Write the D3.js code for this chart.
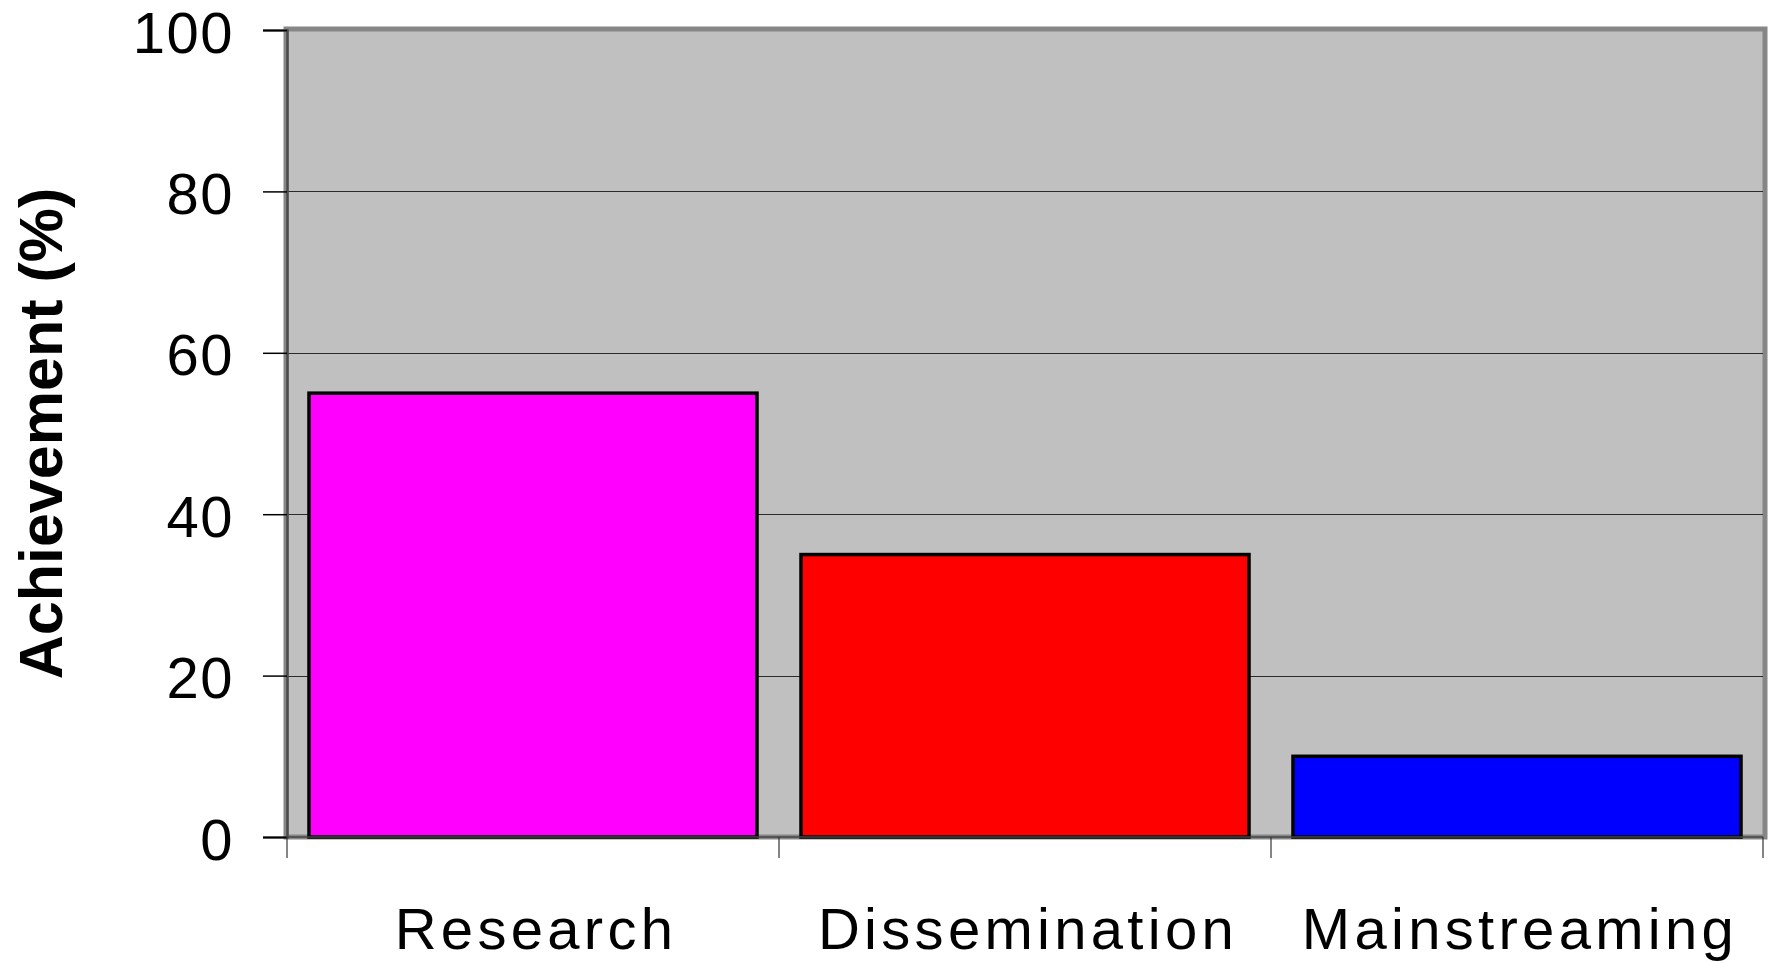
<!DOCTYPE html>
<html>
<head>
<meta charset="utf-8">
<script src="https://cdn.jsdelivr.net/npm/d3@7"></script>
<style>
  html, body { margin: 0; padding: 0; background: #ffffff; }
  svg { display: block; }
  text { font-family: "Liberation Sans", Arial, sans-serif; fill: #000; }
</style>
</head>
<body>
<svg id="chart" width="1770" height="963"></svg>
<script>
// Achievement by programme component
const categories = ["Research", "Dissemination", "Mainstreaming"];
const achievement = [55, 35, 10];
const barColors = ["#ff00ff", "#ff0000", "#0000ff"];
const yTicks = [0, 20, 40, 60, 80, 100];
const yTitle = "Achievement (%)";

const width = 1770, height = 963;
const margin = { top: 30, right: 7, bottom: 126, left: 287 };
const plotW = width - margin.left - margin.right;
const plotH = height - margin.top - margin.bottom;

const svg = d3.select("#chart");
const g = svg.append("g").attr("transform", `translate(${margin.left},${margin.top})`);

const x = d3.scaleBand()
  .domain(categories)
  .range([0, plotW])
  .paddingInner(0.0894)
  .paddingOuter(0.0447);

const y = d3.scaleLinear().domain([0, 100]).range([plotH, 0]);

// plot area background with its grey frame
g.append("rect")
  .attr("x", -1)
  .attr("y", -1)
  .attr("width", plotW + 3)
  .attr("height", plotH + 1)
  .attr("fill", "#c0c0c0")
  .attr("stroke", "#868686")
  .attr("stroke-width", 5);

// horizontal gridlines
g.append("g")
  .selectAll("line")
  .data(yTicks.filter(d => d > 0 && d < 100))
  .join("line")
  .attr("x1", 0)
  .attr("x2", plotW)
  .attr("y1", d => Math.round(y(d)) + 0.5)
  .attr("y2", d => Math.round(y(d)) + 0.5)
  .attr("stroke", "#2a2a2a")
  .attr("stroke-width", 1);

// bars
g.append("g")
  .selectAll("rect")
  .data(categories.map((c, i) => ({ c, v: achievement[i], col: barColors[i] })))
  .join("rect")
  .attr("x", d => x(d.c))
  .attr("y", d => y(d.v))
  .attr("width", x.bandwidth())
  .attr("height", d => plotH - y(d.v))
  .attr("fill", d => d.col)
  .attr("stroke", "#000")
  .attr("stroke-width", 3.5);

// y axis
const yAxis = d3.axisLeft(y)
  .tickValues(yTicks)
  .tickSize(24)
  .tickPadding(29)
  .tickFormat(d3.format("d"));

const ya = g.append("g").call(yAxis);
ya.select(".domain").attr("stroke", "#4a4a4a").attr("stroke-width", 2.5);
ya.selectAll(".tick line").attr("stroke", "#000").attr("stroke-width", 1.5);
ya.selectAll(".tick text")
  .attr("font-size", 58)
  .attr("font-family", "Liberation Sans, Arial, sans-serif")
  .attr("letter-spacing", "1.5px")
  .attr("dy", "0.38em")
  .attr("fill", "#000");

// x axis: baseline plus category boundary ticks
const xa = g.append("g").attr("transform", `translate(0,${plotH})`);
xa.append("line")
  .attr("x1", 0).attr("x2", plotW)
  .attr("y1", 0).attr("y2", 0)
  .attr("stroke", "#444").attr("stroke-width", 1.5);

const boundaries = categories.map(c => x(c) - x.step() * x.paddingInner() / 2);
boundaries.push(plotW);
xa.selectAll("line.bound")
  .data(boundaries)
  .join("line")
  .attr("class", "bound")
  .attr("x1", d => d).attr("x2", d => d)
  .attr("y1", 0).attr("y2", 21)
  .attr("stroke", "#333").attr("stroke-width", 1.2);

xa.selectAll("text")
  .data(categories)
  .join("text")
  .attr("x", d => x(d) + x.bandwidth() / 2 + 3)
  .attr("y", 112)
  .attr("text-anchor", "middle")
  .attr("font-size", 58)
  .attr("letter-spacing", "4.3px")
  .text(d => d);

// y axis title
svg.append("text")
  .attr("transform", `translate(62,${margin.top + plotH / 2}) rotate(-90)`)
  .attr("text-anchor", "middle")
  .attr("font-size", 61)
  .attr("font-weight", "bold")
  .text(yTitle);
</script>
</body>
</html>
